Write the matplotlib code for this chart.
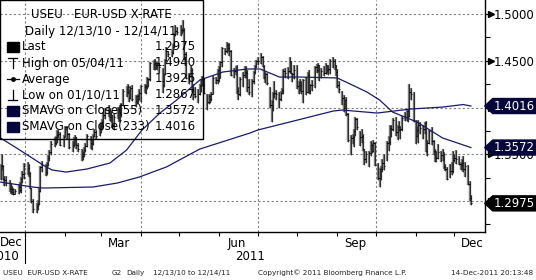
import numpy as np
import pandas as pd
import matplotlib
matplotlib.use("Agg")
import matplotlib.pyplot as plt
import matplotlib.dates as mdates
from matplotlib.lines import Line2D
from matplotlib.patches import Polygon, Rectangle
from matplotlib.collections import LineCollection
from datetime import datetime

# daily bars, Mon-Fri, 13 Dec 2010 .. 14 Dec 2011
closes = [
    1.3380, 1.3375, 1.3235, 1.3225, 1.3190,
    1.3125, 1.3130, 1.3095, 1.3080, 1.3105,
    1.3155, 1.3120, 1.3240, 1.3290, 1.3380,
    1.3350, 1.3300, 1.3140, 1.3000, 1.2910,
    1.2950, 1.2970, 1.3110, 1.3360, 1.3385,
    1.3310, 1.3385, 1.3455, 1.3520, 1.3610,
    1.3620, 1.3680, 1.3710, 1.3720, 1.3600,
    1.3690, 1.3790, 1.3790, 1.3720, 1.3580,
    1.3600, 1.3660, 1.3690, 1.3600, 1.3560,
    1.3480, 1.3500, 1.3550, 1.3590, 1.3700,
    1.3620, 1.3610, 1.3700, 1.3740, 1.3700,
    1.3770, 1.3800, 1.3850, 1.3920, 1.3970,
    1.3970, 1.3900, 1.3915, 1.3810, 1.3900,
    1.3980, 1.3970, 1.3920, 1.4030, 1.4180,
    1.4170, 1.4220, 1.4100, 1.4210, 1.4090,
    1.4070, 1.4120, 1.4090, 1.4160, 1.4230,
    1.4215, 1.4225, 1.4300, 1.4300, 1.4480,
    1.4470, 1.4480, 1.4450, 1.4480, 1.4430,
    1.4240, 1.4360, 1.4510, 1.4600, 1.4570,
    1.4580, 1.4650, 1.4780, 1.4820, 1.4810,
    1.4830, 1.4830, 1.4830, 1.4570, 1.4320,
    1.4340, 1.4400, 1.4180, 1.4150, 1.4120,
    1.4150, 1.4230, 1.4240, 1.4310, 1.4160,
    1.4060, 1.4120, 1.4090, 1.4140, 1.4320,
    1.4290, 1.4400, 1.4320, 1.4490, 1.4640,
    1.4600, 1.4670, 1.4640, 1.4600, 1.4350,
    1.4390, 1.4400, 1.4180, 1.4150, 1.4310,
    1.4350, 1.4380, 1.4370, 1.4220, 1.4170,
    1.4280, 1.4380, 1.4440, 1.4500, 1.4500,
    1.4540, 1.4440, 1.4330, 1.4360, 1.4260,
    1.4030, 1.3990, 1.4150, 1.4160, 1.4150,
    1.4090, 1.4160, 1.4190, 1.4390, 1.4370,
    1.4390, 1.4500, 1.4370, 1.4360, 1.4400,
    1.4230, 1.4190, 1.4240, 1.4180, 1.4290,
    1.4170, 1.4350, 1.4180, 1.4240, 1.4240,
    1.4430, 1.4400, 1.4460, 1.4330, 1.4390,
    1.4370, 1.4450, 1.4400, 1.4410, 1.4500,
    1.4500, 1.4450, 1.4380, 1.4240, 1.4200,
    1.4100, 1.4000, 1.4080, 1.3930, 1.3650,
    1.3670, 1.3690, 1.3750, 1.3880, 1.3790,
    1.3680, 1.3700, 1.3560, 1.3450, 1.3500,
    1.3510, 1.3600, 1.3540, 1.3620, 1.3390,
    1.3250, 1.3340, 1.3340, 1.3410, 1.3380,
    1.3620, 1.3630, 1.3780, 1.3770, 1.3870,
    1.3740, 1.3790, 1.3760, 1.3770, 1.3890,
    1.3900, 1.3960, 1.3910, 1.4170, 1.4140,
    1.3860, 1.3700, 1.3760, 1.3810, 1.3780,
    1.3770, 1.3830, 1.3540, 1.3620, 1.3750,
    1.3640, 1.3530, 1.3470, 1.3460, 1.3520,
    1.3490, 1.3520, 1.3360, 1.3340, 1.3240,
    1.3320, 1.3320, 1.3440, 1.3460, 1.3450,
    1.3400, 1.3390, 1.3410, 1.3340, 1.3380,
    1.3180, 1.3030, 1.2975,
]
highs = [
    1.3400, 1.3500, 1.3390, 1.3270, 1.3270,
    1.3220, 1.3190, 1.3165, 1.3140, 1.3130,
    1.3180, 1.3200, 1.3260, 1.3320, 1.3410,
    1.3420, 1.3395, 1.3310, 1.3140, 1.3020,
    1.2980, 1.3010, 1.3140, 1.3380, 1.3430,
    1.3395, 1.3420, 1.3495, 1.3550, 1.3640,
    1.3680, 1.3700, 1.3760, 1.3760, 1.3740,
    1.3710, 1.3800, 1.3800, 1.3800, 1.3730,
    1.3640, 1.3690, 1.3710, 1.3690, 1.3620,
    1.3560, 1.3530, 1.3580, 1.3620, 1.3720,
    1.3700, 1.3660, 1.3720, 1.3770, 1.3760,
    1.3820, 1.3840, 1.3880, 1.3950, 1.4000,
    1.4030, 1.3990, 1.3960, 1.3920, 1.3930,
    1.4010, 1.4000, 1.4030, 1.4050, 1.4200,
    1.4230, 1.4250, 1.4200, 1.4230, 1.4240,
    1.4130, 1.4130, 1.4150, 1.4200, 1.4240,
    1.4250, 1.4250, 1.4330, 1.4320, 1.4490,
    1.4510, 1.4520, 1.4490, 1.4490, 1.4480,
    1.4420, 1.4370, 1.4520, 1.4650, 1.4600,
    1.4610, 1.4680, 1.4800, 1.4880, 1.4860,
    1.4880, 1.4850, 1.4940, 1.4850, 1.4590,
    1.4370, 1.4440, 1.4420, 1.4250, 1.4220,
    1.4200, 1.4250, 1.4300, 1.4340, 1.4320,
    1.4150, 1.4140, 1.4150, 1.4170, 1.4340,
    1.4330, 1.4410, 1.4440, 1.4500, 1.4650,
    1.4640, 1.4700, 1.4690, 1.4690, 1.4610,
    1.4420, 1.4440, 1.4450, 1.4220, 1.4330,
    1.4380, 1.4440, 1.4440, 1.4400, 1.4300,
    1.4300, 1.4390, 1.4460, 1.4510, 1.4540,
    1.4580, 1.4550, 1.4450, 1.4380, 1.4370,
    1.4220, 1.4080, 1.4170, 1.4280, 1.4190,
    1.4170, 1.4180, 1.4210, 1.4410, 1.4420,
    1.4430, 1.4540, 1.4500, 1.4370, 1.4450,
    1.4450, 1.4280, 1.4300, 1.4280, 1.4300,
    1.4330, 1.4380, 1.4400, 1.4250, 1.4290,
    1.4440, 1.4470, 1.4480, 1.4460, 1.4420,
    1.4440, 1.4480, 1.4460, 1.4460, 1.4520,
    1.4540, 1.4520, 1.4450, 1.4410, 1.4280,
    1.4180, 1.4130, 1.4090, 1.4110, 1.3940,
    1.3710, 1.3720, 1.3770, 1.3900, 1.3890,
    1.3750, 1.3770, 1.3720, 1.3560, 1.3530,
    1.3540, 1.3640, 1.3620, 1.3650, 1.3630,
    1.3410, 1.3350, 1.3380, 1.3450, 1.3500,
    1.3640, 1.3700, 1.3810, 1.3810, 1.3890,
    1.3900, 1.3810, 1.3860, 1.3800, 1.3910,
    1.3950, 1.3970, 1.3980, 1.4247, 1.4210,
    1.4170, 1.3870, 1.3800, 1.3870, 1.3850,
    1.3810, 1.3850, 1.3860, 1.3650, 1.3760,
    1.3790, 1.3650, 1.3560, 1.3540, 1.3610,
    1.3540, 1.3560, 1.3510, 1.3400, 1.3360,
    1.3400, 1.3420, 1.3540, 1.3500, 1.3550,
    1.3480, 1.3420, 1.3450, 1.3480, 1.3420,
    1.3390, 1.3210, 1.3060,
]
lows = [
    1.3230, 1.3330, 1.3220, 1.3160, 1.3160,
    1.3100, 1.3080, 1.3070, 1.3060, 1.3070,
    1.3080, 1.3100, 1.3090, 1.3190, 1.3240,
    1.3280, 1.3260, 1.3130, 1.2980, 1.2875,
    1.2867, 1.2905, 1.2960, 1.3100, 1.3310,
    1.3270, 1.3280, 1.3380, 1.3425, 1.3490,
    1.3580, 1.3600, 1.3620, 1.3670, 1.3585,
    1.3580, 1.3680, 1.3760, 1.3660, 1.3560,
    1.3520, 1.3580, 1.3600, 1.3560, 1.3520,
    1.3430, 1.3440, 1.3470, 1.3520, 1.3580,
    1.3560, 1.3550, 1.3600, 1.3680, 1.3660,
    1.3700, 1.3730, 1.3760, 1.3820, 1.3880,
    1.3900, 1.3860, 1.3840, 1.3780, 1.3760,
    1.3880, 1.3840, 1.3860, 1.3900, 1.4020,
    1.4110, 1.4140, 1.4060, 1.4090, 1.4070,
    1.4010, 1.4040, 1.4040, 1.4080, 1.4060,
    1.4160, 1.4150, 1.4200, 1.4220, 1.4280,
    1.4400, 1.4400, 1.4410, 1.4400, 1.4370,
    1.4160, 1.4220, 1.4350, 1.4500, 1.4540,
    1.4540, 1.4570, 1.4640, 1.4760, 1.4780,
    1.4770, 1.4790, 1.4810, 1.4510, 1.4310,
    1.4250, 1.4330, 1.4170, 1.4080, 1.4100,
    1.4050, 1.4130, 1.4170, 1.4230, 1.4150,
    1.3970, 1.4040, 1.4050, 1.4070, 1.4140,
    1.4250, 1.4250, 1.4270, 1.4320, 1.4430,
    1.4560, 1.4580, 1.4600, 1.4550, 1.4340,
    1.4320, 1.4350, 1.4150, 1.4080, 1.4120,
    1.4220, 1.4320, 1.4320, 1.4170, 1.4130,
    1.4110, 1.4250, 1.4360, 1.4420, 1.4460,
    1.4470, 1.4430, 1.4300, 1.4260, 1.4240,
    1.3990, 1.3840, 1.3960, 1.4100, 1.4080,
    1.4000, 1.4070, 1.4150, 1.4150, 1.4320,
    1.4300, 1.4370, 1.4360, 1.4270, 1.4300,
    1.4200, 1.4140, 1.4180, 1.4140, 1.4050,
    1.4130, 1.4170, 1.4150, 1.4140, 1.4180,
    1.4210, 1.4370, 1.4380, 1.4280, 1.4320,
    1.4340, 1.4360, 1.4370, 1.4350, 1.4360,
    1.4420, 1.4400, 1.4340, 1.4210, 1.4160,
    1.4030, 1.3950, 1.3990, 1.3910, 1.3630,
    1.3495, 1.3610, 1.3580, 1.3700, 1.3760,
    1.3590, 1.3620, 1.3540, 1.3390, 1.3410,
    1.3360, 1.3480, 1.3510, 1.3520, 1.3380,
    1.3220, 1.3145, 1.3230, 1.3310, 1.3330,
    1.3430, 1.3530, 1.3600, 1.3690, 1.3750,
    1.3700, 1.3650, 1.3750, 1.3660, 1.3750,
    1.3860, 1.3860, 1.3850, 1.3900, 1.4080,
    1.3850, 1.3610, 1.3690, 1.3620, 1.3720,
    1.3660, 1.3720, 1.3520, 1.3480, 1.3610,
    1.3600, 1.3490, 1.3420, 1.3420, 1.3450,
    1.3420, 1.3430, 1.3340, 1.3320, 1.3220,
    1.3250, 1.3280, 1.3300, 1.3420, 1.3400,
    1.3390, 1.3330, 1.3330, 1.3310, 1.3260,
    1.3170, 1.3000, 1.2960,
]

# moving averages
sma55_dates = ["2010-12-13", "2010-12-28", "2011-01-15", "2011-01-22", "2011-02-02",
               "2011-02-18", "2011-03-08", "2011-03-21", "2011-04-02", "2011-04-16",
               "2011-04-29", "2011-05-17", "2011-06-04", "2011-06-23", "2011-07-03",
               "2011-07-18", "2011-08-03", "2011-09-01", "2011-09-16", "2011-09-24",
               "2011-10-04", "2011-10-14", "2011-11-02", "2011-11-22", "2011-12-14"]
sma55 = [1.3674, 1.3545, 1.3385, 1.3332, 1.3310, 1.3342, 1.3406, 1.3545, 1.3759, 1.3941,
         1.4080, 1.4294, 1.4380, 1.4412, 1.4412, 1.4326, 1.4326, 1.4316, 1.4219, 1.4166,
         1.4080, 1.3952, 1.3845, 1.3674, 1.3572]
sma233_dates = ["2010-12-13", "2011-01-07", "2011-01-15", "2011-02-23", "2011-03-14",
                "2011-03-31", "2011-04-21", "2011-05-17", "2011-06-25", "2011-07-01",
                "2011-08-01", "2011-08-29", "2011-09-05", "2011-10-02", "2011-10-28",
                "2011-11-22", "2011-12-08", "2011-12-14"]
sma233 = [1.3203, 1.3150, 1.3139, 1.3150, 1.3193, 1.3257, 1.3364, 1.3556, 1.3727, 1.3759,
          1.3866, 1.3963, 1.3973, 1.3941, 1.3984, 1.4005, 1.4032, 1.4016]

legend_rows = [("Last", "1.2975"), ("High on 05/04/11", "1.4940"), ("Average", "1.3926"),
               ("Low on 01/10/11", "1.2867"), ("SMAVG on Close(55)", "1.3572"),
               ("SMAVG on Close(233)", "1.4016")]
tags = [(1.4016, "1.4016", "#06063a"), (1.3572, "1.3572", "#06063a"), (1.2975, "1.2975", "#000000")]

W, H = 536, 280
NAVY = "#1a1a6a"
YMIN, YMAX = 1.2672, 1.515
AX_R, AX_B = 484.7, 231.7
FS = 8.5


def fx(px):
    return px / W


def fy(py):
    return 1 - py / H


def ypx(v):
    return (YMAX - v) / (YMAX - YMIN) * AX_B


fig = plt.figure(figsize=(W / 100, H / 100), dpi=100)
ax = fig.add_axes([0, fy(AX_B), fx(AX_R), 1 - fy(AX_B)])

dates = pd.bdate_range("2010-12-13", "2011-12-14")
xd = mdates.date2num(dates.to_pydatetime())

# grid
for v in [1.30, 1.35, 1.40, 1.45, 1.50]:
    ax.axhline(v, color="#808080", lw=0.8, ls=(0, (2, 2)), zorder=1)
for d in [datetime(2011, 1, 1), datetime(2011, 4, 1), datetime(2011, 7, 1), datetime(2011, 10, 1)]:
    ax.axvline(mdates.date2num(d), color="#808080", lw=0.8, ls=(0, (2, 2)), zorder=1)

# bars
segs = [[(x, l), (x, h)] for x, l, h in zip(xd, lows, highs)]
ax.add_collection(LineCollection(segs, colors="#777777", linewidths=1.7, zorder=2))
ax.add_collection(LineCollection(segs, colors="#111111", linewidths=0.5, zorder=3))
ticks = [[(x, c), (x + 1.0, c)] for x, c in zip(xd, closes)]
ax.add_collection(LineCollection(ticks, colors="black", linewidths=0.7, zorder=3))

ax.plot(pd.to_datetime(sma55_dates), sma55, color=NAVY, lw=0.9, zorder=4)
ax.plot(pd.to_datetime(sma233_dates), sma233, color=NAVY, lw=0.9, zorder=4)

ax.set_xlim(datetime(2010, 12, 12, 13), datetime(2011, 12, 24, 17))
ax.set_ylim(YMIN, YMAX)

for s in ["left", "top"]:
    ax.spines[s].set_visible(False)
ax.spines["bottom"].set_linewidth(1.0)
ax.spines["right"].set_linewidth(1.0)

ax.xaxis.set_major_locator(mdates.MonthLocator())
ax.xaxis.set_major_formatter(plt.NullFormatter())
ax.tick_params(axis="x", direction="out", length=3, width=0.8)

ax.yaxis.tick_right()
ax.set_yticks([1.30, 1.35, 1.40, 1.45, 1.50])
ax.set_yticklabels(["1.3000", "1.3500", "1.4000", "1.4500", "1.5000"])
ax.set_yticks(np.arange(1.275, 1.515, 0.025), minor=True)
ax.tick_params(axis="y", which="both", direction="out", length=3.5, width=0.8, pad=3,
               labelsize=FS)

# small arrow heads on labelled ticks
for v in [1.50, 1.45, 1.40, 1.35, 1.30]:
    fig.add_artist(Line2D([fx(AX_R + 6)], [fy(ypx(v))], marker=">", ms=4,
                          color="black", mec="black", transform=fig.transFigure))

# value tags on right axis
for v, txt, col in tags:
    yc = ypx(v)
    pts = [(AX_R, yc), (AX_R + 8, yc - 7.5), (W, yc - 7.5), (W, yc + 7.5), (AX_R + 8, yc + 7.5)]
    fig.add_artist(Polygon([(fx(a), fy(b)) for a, b in pts], closed=True, fc=col, ec=col,
                           transform=fig.transFigure, zorder=10))
    fig.text(fx(AX_R + 9), fy(yc), txt, color="white", fontsize=FS, va="center",
             ha="left", zorder=11)

# month and year labels
for lbl, d in [("Mar", datetime(2011, 3, 15)), ("Jun", datetime(2011, 6, 15)),
               ("Sep", datetime(2011, 9, 15)), ("Dec", datetime(2011, 12, 15))]:
    ax.text(mdates.date2num(d), -0.05, lbl, transform=ax.get_xaxis_transform(),
            ha="center", va="center", fontsize=FS)
fig.text(fx(0), fy(242), "Dec", ha="left", va="center", fontsize=FS)
fig.text(fx(19), fy(257), "2010", ha="right", va="center", fontsize=FS)
fig.text(fx(250), fy(257), "2011", ha="center", va="center", fontsize=FS)
fig.add_artist(Line2D([fx(25), fx(25)], [fy(AX_B), fy(263)], color="black", lw=0.8,
                      transform=fig.transFigure))

# footer
foot = [(3, "USEU  EUR-USD X-RATE"), (112, "G2"), (126, "Daily"), (153, "12/13/10 to 12/14/11"),
        (258, "Copyright\u00a9 2011 Bloomberg Finance L.P.")]
for x, t in foot:
    fig.text(fx(x), fy(273), t, fontsize=5.2, ha="left", va="center", color="#222222")
fig.text(fx(533), fy(273), "14-Dec-2011 20:13:48", fontsize=5.2, ha="right", va="center",
         color="#222222")

# legend box
fig.add_artist(Rectangle((fx(0), fy(139)), fx(203), 139 / H, fill=False, ec="black", lw=1.0,
                         transform=fig.transFigure, zorder=6))
fig.text(fx(101), fy(15), "USEU   EUR-USD X-RATE", ha="center", va="center", fontsize=FS,
         zorder=7)
fig.text(fx(101), fy(31), "Daily 12/13/10 - 12/14/11", ha="center", va="center", fontsize=FS,
         zorder=7)
for i, (name, val) in enumerate(legend_rows):
    yc = 47 + 16 * i
    fig.text(fx(22), fy(yc), name, ha="left", va="center", fontsize=FS, zorder=7)
    fig.text(fx(196), fy(yc), val, ha="right", va="center", fontsize=FS, zorder=7)

# legend symbols
for i, col in [(0, "black"), (4, "#06063a"), (5, "#06063a")]:
    yc = 47 + 16 * i
    fig.add_artist(Rectangle((fx(7), fy(yc + 5)), fx(12), 10 / H, fc=col, ec=col,
                             transform=fig.transFigure, zorder=7))


def seg(x0, y0, x1, y1):
    fig.add_artist(Line2D([fx(x0), fx(x1)], [fy(y0), fy(y1)], color="black", lw=0.9,
                          transform=fig.transFigure, zorder=7))


seg(8, 58, 17, 58)
seg(12.5, 58, 12.5, 68)
seg(7, 79, 19, 79)
fig.add_artist(Line2D([fx(13)], [fy(79)], marker="o", ms=2.5, color="black",
                      transform=fig.transFigure, zorder=7))
seg(8, 100, 17, 100)
seg(12.5, 90, 12.5, 100)

fig.savefig("out.png", dpi=100)
